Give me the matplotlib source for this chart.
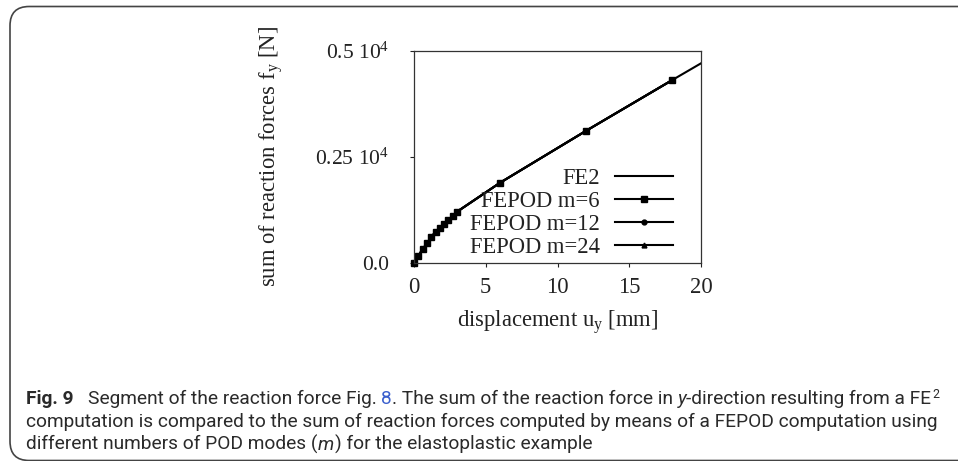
# -*- coding: utf-8 -*-
"""Reaction force vs displacement, FE2 vs FEPOD (segment)."""

import matplotlib
matplotlib.use('Agg')
import matplotlib.pyplot as plt
from matplotlib.patches import FancyBboxPatch

# data
ux = [0, 0.3, 0.6, 0.9, 1.2, 1.5, 1.8, 2.1, 2.4, 2.7, 3.0, 6, 12, 18]
fy = [0, 172, 323, 464, 606, 738, 833, 920, 1014, 1108, 1210, 1894, 3120, 4316]
ux_fe2 = ux + [20]
fy_fe2 = fy + [4710]
x_ticks = [0, 5, 10, 15, 20]
y_ticks = [0, 2500, 5000]
y_tick_labels = ['0.0', '0.25 10$^4$', '0.5 10$^4$']
series = ['FE2', 'FEPOD m=6', 'FEPOD m=12', 'FEPOD m=24']

plt.rcParams['font.family'] = 'Liberation Serif'
plt.rcParams['mathtext.fontset'] = 'custom'
plt.rcParams['mathtext.rm'] = 'Liberation Serif'
plt.rcParams['mathtext.it'] = 'Liberation Serif:italic'

fs = 16.3
txt_col = '#222222'

fig = plt.figure(figsize=(9.58, 4.61), dpi=100)
ax = fig.add_axes([0.4322, 0.4295, 0.2996, 0.4599])

ax.plot(ux_fe2, fy_fe2, '-', color='black', lw=1.5, label=series[0])
ax.plot(ux, fy, 's-', color='black', lw=1.5, ms=4.5, label=series[1], clip_on=False)
ax.plot(ux, fy, 'o-', color='black', lw=1.5, ms=3.5, label=series[2], clip_on=False)
ax.plot(ux, fy, '^-', color='black', lw=1.5, ms=3.5, label=series[3], clip_on=False)

ax.set_xlim(0, 20)
ax.set_ylim(0, 5000)
ax.set_xticks(x_ticks)
ax.set_yticks(y_ticks)
ax.set_yticklabels(y_tick_labels)
ax.tick_params(direction='out', length=3, width=0.8, labelsize=fs, colors=txt_col)
ax.tick_params(axis='y', pad=15, labelsize=15.5)
ax.tick_params(axis='x', pad=7)
for s in ax.spines.values():
    s.set_linewidth(0.9)
    s.set_color('#333333')

ax.set_xlabel('displacement u$_\\mathrm{y}$ [mm]', fontsize=fs, color=txt_col)
ax.set_ylabel('sum of reaction forces f$_\\mathrm{y}$ [N]', fontsize=fs, color=txt_col)
ax.xaxis.set_label_coords(0.5, -0.215)
ax.yaxis.set_label_coords(-0.45, 0.5)

leg = ax.legend(loc='lower right', bbox_to_anchor=(0.902, 0.022), frameon=False,
                markerfirst=False, handlelength=2.57, handletextpad=0.66,
                labelspacing=0.1, borderpad=0, borderaxespad=0, fontsize=fs)
for t in leg.get_texts():
    t.set_color(txt_col)

# border round the figure, open at the right
fig.patches.append(FancyBboxPatch((10 / 958, 0.5 / 461), 1.2, 454 / 461,
                                  boxstyle='round,pad=0,rounding_size=0.02',
                                  transform=fig.transFigure, fill=False,
                                  ec='#444444', lw=1.2, mutation_aspect=958 / 461))

# caption
cap_font = 'Roboto'
cap_col = '#2a2a2a'
renderer = fig.canvas.get_renderer()

line1 = [
    ('Fig. 9', 0, dict(weight='bold')),
    ('Segment of the reaction force Fig.', 3, {}),
    ('8', 1, dict(color='#3a5fcd')),
    ('. The sum of the reaction force in', 0, {}),
    ('y', 1, dict(style='italic')),
    ('-direction resulting from a FE', 0, {}),
    ('2', 0.2, dict(size_scale=0.65, dy=6)),
]
line2 = [
    ('computation is compared to the sum of reaction forces computed by means of a FEPOD computation using', 0, {}),
]
line3 = [
    ('different numbers of POD modes (', 0, {}),
    ('m', 0, dict(style='italic')),
    (') for the elastoplastic example', 0.3, {}),
]


def draw_runs(x, y, runs, size, draw=True):
    """Write runs of text one after the other; return the end x in pixels."""
    sp_a = fig.text(0, 0, 'x x', fontsize=size, family=cap_font)
    sp_b = fig.text(0, 0, 'xx', fontsize=size, family=cap_font)
    space = sp_a.get_window_extent(renderer).width - sp_b.get_window_extent(renderer).width
    sp_a.remove()
    sp_b.remove()
    for s, gap, kw in runs:
        x += gap * space
        opts = dict(family=cap_font, color=cap_col, va='baseline')
        opts.update(kw)
        dy = opts.pop('dy', 0)
        opts['fontsize'] = size * opts.pop('size_scale', 1)
        t = fig.text(x / fig.bbox.width, (y + dy) / fig.bbox.height, s, **opts)
        x += t.get_window_extent(renderer).width
        if not draw:
            t.remove()
    return x


# fit the first line to the width it has in the reference
x0 = 26
w = draw_runs(x0, 0, line1, 12.5, draw=False) - x0
cap_size = 12.5 * (940 - x0) / w

H = 461
draw_runs(x0, H - 404, line1, cap_size)
draw_runs(x0, H - 427, line2, cap_size)
draw_runs(x0, H - 450, line3, cap_size)

fig.savefig('out.png', dpi=100)
